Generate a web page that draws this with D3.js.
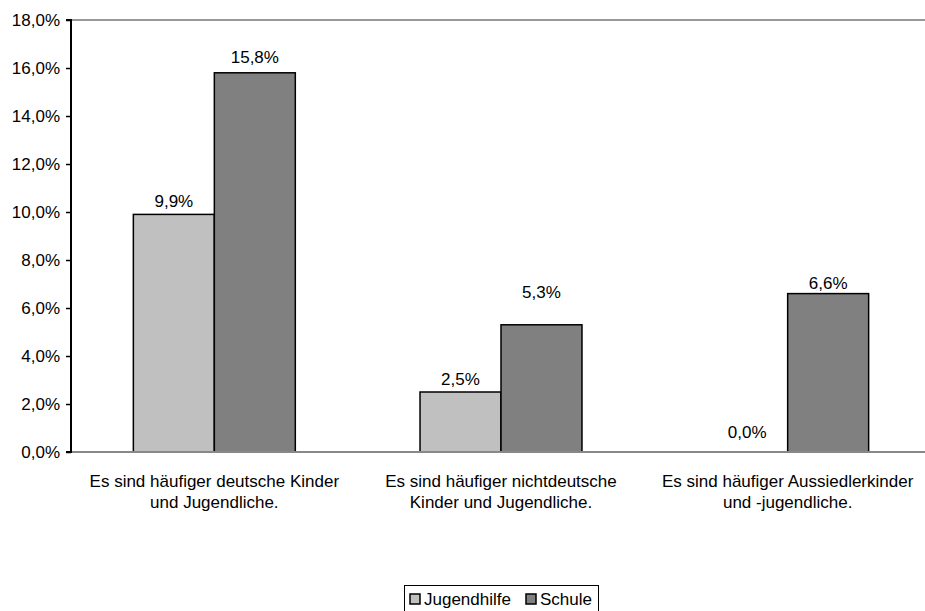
<!DOCTYPE html>
<html>
<head>
<meta charset="utf-8">
<script src="https://cdn.jsdelivr.net/npm/d3@7"></script>
<style>
  html, body { margin: 0; padding: 0; background: #fff; }
  svg { display: block; font-family: "Liberation Sans", Arial, sans-serif; }
</style>
</head>
<body>
<svg id="chart" width="925" height="611"></svg>
<script>
const categories = [
  ["Es sind häufiger deutsche Kinder", "und Jugendliche."],
  ["Es sind häufiger nichtdeutsche", "Kinder und Jugendliche."],
  ["Es sind häufiger Aussiedlerkinder", "und -jugendliche."]
];
const seriesNames = ["Jugendhilfe", "Schule"];
const jugendhilfe = [9.9, 2.5, 0.0];
const schule = [15.8, 5.3, 6.6];
const yTicks = [0, 2, 4, 6, 8, 10, 12, 14, 16, 18];
const colors = ["#C0C0C0", "#808080"];
// label lift above bar top (px), per category: [Jugendhilfe, Schule]
const labelLift = [[7, 10], [7, 27], [14, 5]];

(function () {
const svg = d3.select("#chart");
const mLeft = 71, mRight = 931, mTop = 20, mBottom = 452;
const FS = 17;

const catKeys = categories.map((c, i) => i);
const x0 = d3.scaleBand().domain(catKeys).range([mLeft, mRight]).padding(0);
const x1 = d3.scaleBand().domain(seriesNames).range([0, x0.bandwidth()]).paddingInner(0).paddingOuter(0.77);
const y = d3.scaleLinear().domain([0, 18]).range([mBottom, mTop]);
const color = d3.scaleOrdinal().domain(seriesNames).range(colors);

const fmt = v => d3.format(".1f")(v).replace(".", ",") + "%";

// top border line
svg.append("line").attr("x1", mLeft).attr("x2", 925).attr("y1", y(18)).attr("y2", y(18))
  .attr("stroke", "#999").attr("stroke-width", 2);

// bars
const data = catKeys.map(i => ({ cat: i, values: [jugendhilfe[i], schule[i]] }));
const groups = svg.append("g").selectAll("g").data(data).join("g")
  .attr("transform", d => `translate(${x0(d.cat)},0)`);

groups.selectAll("rect").data(d => d.values.map((v, j) => ({ key: seriesNames[j], v })).filter(e => e.v > 0))
  .join("rect")
  .attr("x", e => x1(e.key))
  .attr("y", e => y(e.v))
  .attr("width", x1.bandwidth())
  .attr("height", e => y(0) - y(e.v))
  .attr("fill", e => color(e.key))
  .attr("stroke", "#000").attr("stroke-width", 1.5);

groups.selectAll("text.val").data(d => d.values.map((v, j) => ({ key: seriesNames[j], v, lift: labelLift[d.cat][j] })))
  .join("text").attr("class", "val")
  .attr("x", e => x1(e.key) + x1.bandwidth() / 2)
  .attr("y", e => y(e.v) - e.lift)
  .attr("text-anchor", "middle")
  .attr("font-size", FS)
  .attr("fill", "#000")
  .text(e => fmt(e.v));

// baseline
svg.append("line").attr("x1", mLeft).attr("x2", 925).attr("y1", y(0)).attr("y2", y(0))
  .attr("stroke", "#888").attr("stroke-width", 2);

// y axis
const yAxis = d3.axisLeft(y).tickValues(yTicks).tickSize(5).tickPadding(6).tickFormat(v => fmt(v));
const yg = svg.append("g").attr("transform", `translate(${mLeft},0)`).call(yAxis);
yg.select(".domain").attr("stroke", "#000").attr("stroke-width", 2).attr("d", `M-5,${y(18)}H0V${y(0)}H-5`);
yg.selectAll(".tick line").attr("stroke", "#000").attr("stroke-width", 1.5);
yg.selectAll(".tick text").attr("font-size", FS).attr("fill", "#000")
  .attr("font-family", "'Liberation Sans', Arial, sans-serif");

// category labels
const cl = svg.append("g").selectAll("text").data(catKeys).join("text")
  .attr("x", i => x0(i) + x0.bandwidth() / 2)
  .attr("y", 487)
  .attr("text-anchor", "middle")
  .attr("font-size", FS)
  .attr("fill", "#000");
cl.selectAll("tspan").data(i => categories[i]).join("tspan")
  .attr("x", function() { return d3.select(this.parentNode).attr("x"); })
  .attr("dy", (d, k) => k === 0 ? 0 : 21)
  .text(d => d);

// legend
const lg = svg.append("g");
lg.append("rect").attr("x", 404.5).attr("y", 585.5).attr("width", 194).attr("height", 30)
  .attr("fill", "#fff").attr("stroke", "#000").attr("stroke-width", 1);
const lx = [410, 526];
seriesNames.forEach((s, j) => {
  lg.append("rect").attr("x", lx[j]).attr("y", 594).attr("width", 10).attr("height", 10)
    .attr("fill", color(s)).attr("stroke", "#000").attr("stroke-width", 1.5);
  lg.append("text").attr("x", lx[j] + 14).attr("y", 605).attr("font-size", FS).attr("fill", "#000").text(s);
});
})();
</script>
</body>
</html>
